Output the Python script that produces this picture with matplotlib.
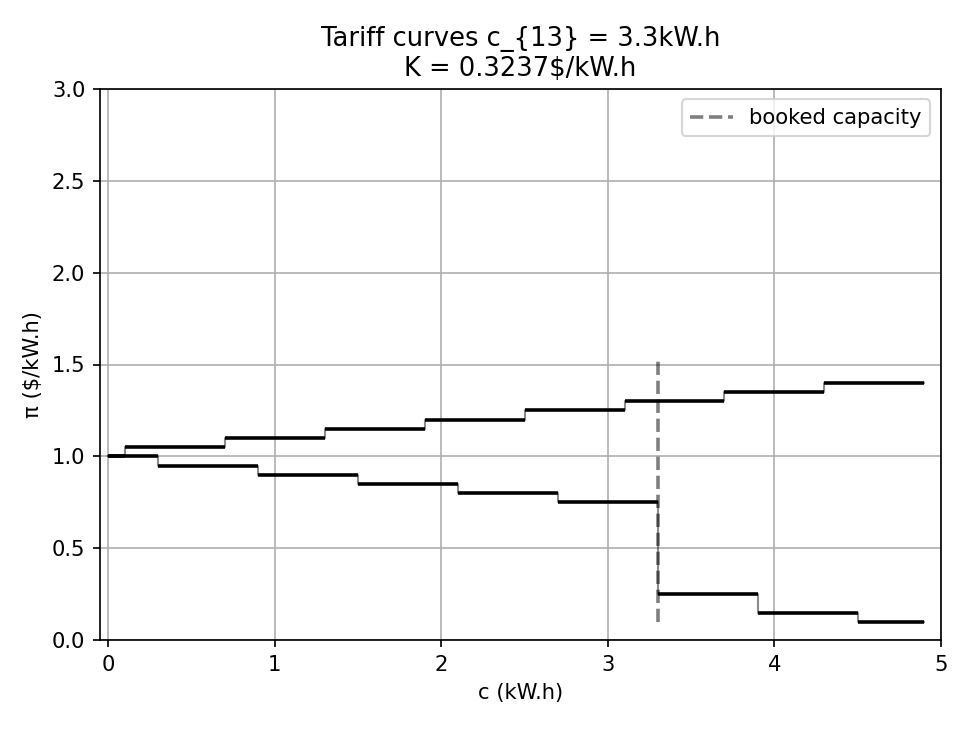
import matplotlib
matplotlib.use("Agg")
import matplotlib.pyplot as plt
import numpy as np

# Data
upper_x = [0.0, 0.1, 0.7, 1.3, 1.9, 2.5, 3.1, 3.7, 4.3, 4.9]
upper_y = [1.00, 1.05, 1.10, 1.15, 1.20, 1.25, 1.30, 1.35, 1.40]
lower_x = [0.0, 0.3, 0.9, 1.5, 2.1, 2.7, 3.3, 3.9, 4.5, 4.9]
lower_y = [1.00, 0.95, 0.90, 0.85, 0.80, 0.75, 0.25, 0.15, 0.10]
booked_capacity = 3.3
booked_ymin = 0.1
booked_ymax = 1.52
title = "Tariff curves c_{13} = 3.3kW.h\nK = 0.3237\\$/kW.h"
xticks = [0, 1, 2, 3, 4, 5]
yticks = [0.0, 0.5, 1.0, 1.5, 2.0, 2.5, 3.0]

fig = plt.figure(figsize=(6.4, 4.8), dpi=151.875)
ax = fig.add_subplot(111)
fig.subplots_adjust(left=0.103, right=0.968, top=0.878, bottom=0.122)

for xs, ys in [(upper_x, upper_y), (lower_x, lower_y)]:
    # thin vertical connectors
    ax.step(xs, list(ys) + [ys[-1]], where='post', color='k', alpha=0.45, lw=1.0)
    ax.hlines(ys, xs[:-1], xs[1:], colors='k', lw=1.7)

ax.vlines(booked_capacity, booked_ymin, booked_ymax, colors='k', alpha=0.5,
          linestyles='--', lw=1.7, label='booked capacity')

ax.set_xlim(-0.05, 5.0)
ax.set_ylim(0, 3.0)
ax.set_xticks(xticks)
ax.set_yticks(yticks)
ax.grid(True)
ax.set_xlabel("c (kW.h)")
ax.set_ylabel("π (\\$/kW.h)")
ax.set_title(title, fontsize=12.2)
ax.legend(loc='upper right')

fig.savefig("out.png", dpi=151.875)
